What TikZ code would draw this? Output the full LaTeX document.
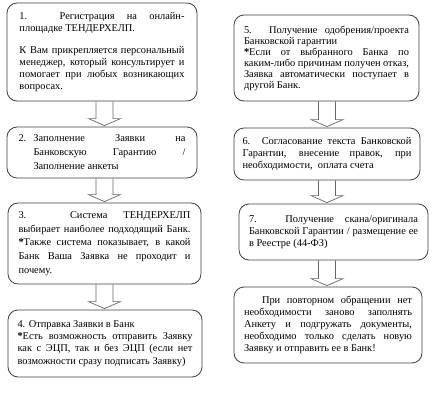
\documentclass[tikz,border=0pt]{standalone}
\usepackage{fontspec}
\setmainfont{Liberation Serif}
\usetikzlibrary{calc}
\newcommand{\jw}[2]{{\spaceskip=0pt\xspaceskip=0pt\makebox[#1][s]{#2}}}
\newcommand{\jl}[1]{\jw{\linewidth}{#1}}
\tikzset{
  stepbox/.style={draw=black!75, line width=0.8pt, rounded corners=10pt,
    inner xsep=0pt, inner ysep=0pt, align=justify, anchor=center,
    font=\fontsize{10.4}{12}\selectfont},
  blockarrow/.style={draw=black!60, line width=0.7pt},
}
\newcommand{\barrow}[3]{%
  \draw[blockarrow] let \p1=(#1), \p2=(#2.south), \p3=(#3.north) in
    (\x1-8.5pt,\y2) -- (\x1-8.5pt,\y3+8pt) -- (\x1-16pt,\y3+8pt) -- (\x1,\y3+1pt)
    -- (\x1+16pt,\y3+8pt) -- (\x1+8.5pt,\y3+8pt) -- (\x1+8.5pt,\y2);}
\begin{document}
\begin{tikzpicture}[x=1pt,y=-1pt]
\fill[white] (0,0) rectangle (434,410);
\useasboundingbox (0,0) rectangle (434,410);
\coordinate (colL) at (104.5,0);
\coordinate (colR) at (327,0);

\node[stepbox, minimum width=190, minimum height=98, text width=165] (b1) at (102,52) {%
\jl{1. Регистрация на онлайн-}\\
площадке ТЕНДЕРХЕЛП.\\[10pt]
\jl{К Вам прикрепляется персональный}\\
\jl{менеджер, который консультирует и}\\
\jl{помогает при любых возникающих}\\
вопросах.};

\node[stepbox, minimum width=190, minimum height=51, text width=167,
  font=\fontsize{10.4}{14}\selectfont] (b2) at (102,152.5) {%
\makebox[15pt][l]{2.}\jw{\dimexpr\linewidth-15pt\relax}{Заполнение Заявки на}\\
\hspace*{15pt}\jw{\dimexpr\linewidth-15pt\relax}{Банковскую Гарантию /}\\
\hspace*{15pt}Заполнение анкеты};

\node[stepbox, minimum width=193, minimum height=81, text width=172,
  font=\fontsize{10.4}{13.75}\selectfont] (b3) at (104.5,243.5) {%
\jl{3. Система ТЕНДЕРХЕЛП}\\
\jl{выбирает наиболее подходящий Банк.}\\
\jl{\textbf{*}Также система показывает, в какой}\\
\jl{Банк Ваша Заявка не проходит и}\\
почему.};

\node[stepbox, minimum width=194, minimum height=67, text width=175,
  font=\fontsize{10.4}{12.3}\selectfont] (b4) at (105,343.5) {%
4. Отправка Заявки в Банк\\
\jl{\textbf{*}Есть возможность отправить Заявку}\\
\jl{как с ЭЦП, так и без ЭЦП (если нет}\\
возможности сразу подписать Заявку)};

\node[stepbox, minimum width=185, minimum height=86, text width=165,
  font=\fontsize{10.4}{11}\selectfont] (b5) at (326.5,58) {%
\jl{5. Получение одобрения/проекта}\\
Банковской гарантии\\
\jl{\textbf{*}Если от выбранного Банка по}\\
\jl{каким-либо причинам получен отказ,}\\
\jl{Заявка автоматически поступает в}\\
другой Банк.};

\node[stepbox, minimum width=186, minimum height=52, text width=169] (b6) at (327,154) {%
\jl{6. Согласование текста Банковской}\\
\jl{Гарантии, внесение правок, при}\\
необходимости,\ \ оплата счета};

\node[stepbox, minimum width=189, minimum height=56, text width=169] (b7) at (333.5,232) {%
\jl{7. Получение скана/оригинала}\\
\jl{Банковской Гарантии / размещение ее}\\
в Реестре (44-ФЗ)};

\node[stepbox, minimum width=188, minimum height=76, text width=168] (b8) at (328,325) {%
\hspace*{18pt}\jw{\dimexpr\linewidth-18pt\relax}{При повторном обращении нет}\\
\jl{необходимости заново заполнять}\\
\jl{Анкету и подгружать документы,}\\
\jl{необходимо только сделать новую}\\
Заявку и отправить ее в Банк!};

\barrow{colL}{b1}{b2}
\barrow{colL}{b2}{b3}
\barrow{colL}{b3}{b4}
\barrow{colR}{b5}{b6}
\barrow{colR}{b6}{b7}
\barrow{colR}{b7}{b8}
\end{tikzpicture}
\end{document}
